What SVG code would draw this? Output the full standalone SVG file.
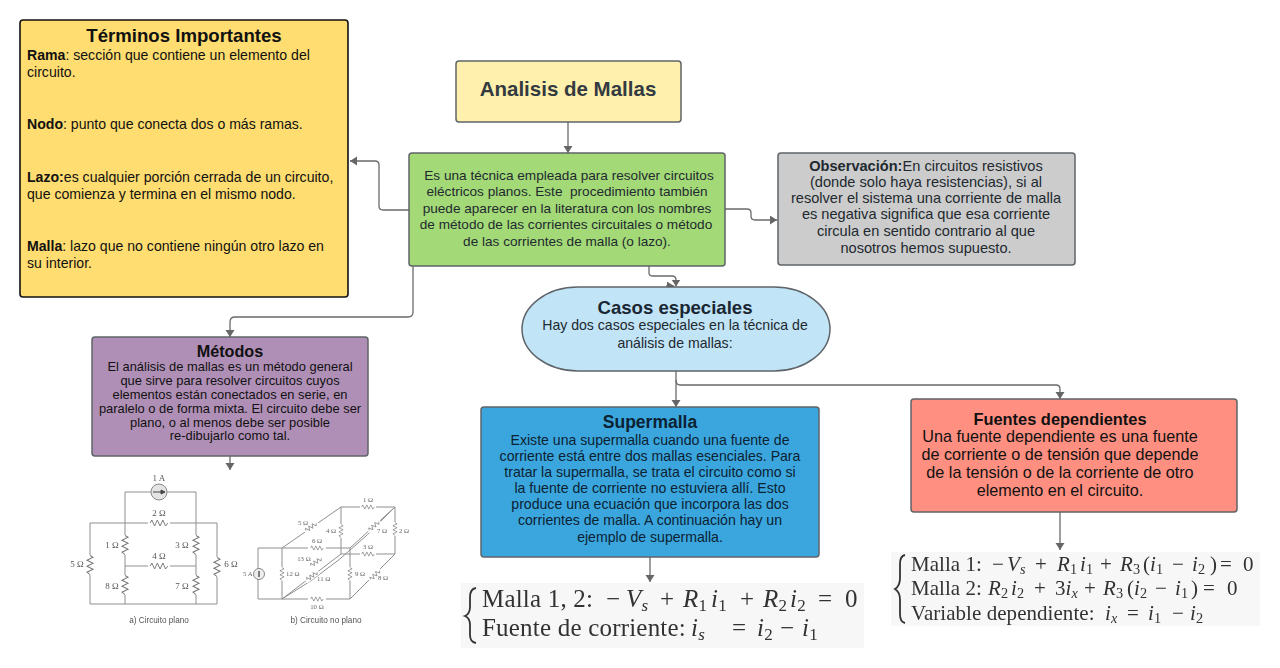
<svg xmlns="http://www.w3.org/2000/svg" width="1280" height="668" viewBox="0 0 1280 668">
<style>
text{font-family:"Liberation Sans",Arial,sans-serif}
.c{text-anchor:middle}
.box{stroke:#5f6468;stroke-width:1.5}
.conn{fill:none;stroke:#6a6a6a;stroke-width:1.3}
.t{font-size:13.6px;fill:#22292f}
.g{font-size:14.600px;fill:#22292f}
.k{fill:#111;font-size:14.100px}
.w{fill:none;stroke:#8f8f8f;stroke-width:1}
.r{fill:none;stroke:#777;stroke-width:.9}
.o text{font-family:"Liberation Serif",serif;font-size:9px;fill:#555}
.o2 text{font-family:"Liberation Serif",serif;font-size:6.800px;fill:#666}
.m{font-family:"Liberation Serif",serif;fill:#333}
.m1{font-size:25px;letter-spacing:.2px}
.m2{font-size:21px;letter-spacing:.05px}
.i{font-style:italic}
.s{font-size:.68em}
</style>
<defs>
<marker id="ab" markerWidth="7" markerHeight="10" refX="7" refY="4.500" orient="auto" markerUnits="userSpaceOnUse"><path d="M0 0L7 4.500L0 9Z" fill="#666"/></marker>
<path id="z" d="M-8 0L-6.500 -3L-4 3L-1.500 -3L1 3L3.500 -3L6 3L8 0"/>
<filter id="soft" x="-5%" y="-5%" width="110%" height="110%"><feGaussianBlur stdDeviation=".4"/></filter>
<filter id="soft2" x="-5%" y="-5%" width="110%" height="110%"><feGaussianBlur stdDeviation=".3"/></filter>
</defs>
<rect width="1280" height="668" fill="#fff"/>

<g id="connectors">
<path class="conn" marker-end="url(#ab)" d="M568 122V153"/>
<path class="conn" marker-end="url(#ab)" d="M409 210H383Q379 210 379 206V165Q379 161 375 161H350"/>
<path class="conn" marker-end="url(#ab)" d="M725 209H747Q751 209 751 213V216Q751 220 755 220H777"/>
<path class="conn" marker-end="url(#ab)" d="M649 266V273Q649 276 653 276H672Q676 276 676 280V286.500"/>
<path class="conn" marker-end="url(#ab)" d="M666 286H674"/>
<path class="conn" marker-end="url(#ab)" d="M413 266V312Q413 317 408 317H235Q230 317 230 322V337"/>
<path class="conn" marker-end="url(#ab)" d="M676 371V407"/>
<path class="conn" marker-end="url(#ab)" d="M676 380Q676 385 680 385H1056Q1060 385 1060 389V399"/>
<path class="conn" marker-end="url(#ab)" d="M230 456V470"/>
<path class="conn" marker-end="url(#ab)" d="M650 557V582"/>
<path class="conn" marker-end="url(#ab)" d="M1060 512V550"/>
</g>

<g id="terminos">
<rect x="20" y="20" width="328" height="277" rx="3" fill="#ffdd70" stroke="#111" stroke-width="1.6"/>
<text class="c" x="184" y="42" font-size="18.600" font-weight="700" fill="#111">Términos Importantes</text>
<text class="k" x="27" y="60"><tspan font-weight="700">Rama</tspan>: sección que contiene un elemento del</text>
<text class="k" x="27" y="77">circuito.</text>
<text class="k" x="27" y="129"><tspan font-weight="700">Nodo</tspan>: punto que conecta dos o más ramas.</text>
<text class="k" x="27" y="182"><tspan font-weight="700">Lazo:</tspan>es cualquier porción cerrada de un circuito,</text>
<text class="k" x="27" y="199">que comienza y termina en el mismo nodo.</text>
<text class="k" x="27" y="251"><tspan font-weight="700">Malla</tspan>: lazo que no contiene ningún otro lazo en</text>
<text class="k" x="27" y="268">su interior.</text>
</g>

<g id="analisis">
<rect class="box" x="456" y="61" width="225" height="61" rx="3" fill="#fff0ad"/>
<text class="c" x="568" y="96" font-size="20.500" font-weight="700" fill="#333a40">Analisis de Mallas</text>
</g>

<g id="tecnica">
<rect class="box" x="409" y="153" width="316" height="113" rx="3" fill="#a3d977"/>
<text class="c t" x="569" y="180">Es una técnica empleada para resolver circuitos</text>
<text class="c t" x="567" y="196">eléctricos planos. Este&#160; procedimiento también</text>
<text class="c t" x="567" y="213">puede aparecer en la literatura con los nombres</text>
<text class="c t" x="566" y="229">de método de las corrientes circuitales o método</text>
<text class="c t" x="567" y="246">de las corrientes de malla (o lazo).</text>
</g>

<g id="observacion">
<rect class="box" x="778" y="153" width="297" height="112" rx="3" fill="#cccccc"/>
<text class="c g" x="926" y="171"><tspan font-weight="700">Observación:</tspan>En circuitos resistivos</text>
<text class="c g" x="926" y="187">(donde solo haya resistencias), si al</text>
<text class="c g" x="926" y="203">resolver el sistema una corriente de malla</text>
<text class="c g" x="926" y="219">es negativa significa que esa corriente</text>
<text class="c g" x="926" y="236">circula en sentido contrario al que</text>
<text class="c g" x="926" y="253">nosotros hemos supuesto.</text>
</g>

<g id="casos">
<rect class="box" x="522" y="287" width="308" height="84" rx="56" ry="42" fill="#c1e4f7"/>
<text class="c" x="675" y="314" font-size="18.600" font-weight="700" fill="#1a2733">Casos especiales</text>
<text class="c" x="675" y="330" font-size="14.100" fill="#22292f">Hay dos casos especiales en la técnica de</text>
<text class="c" x="675" y="348" font-size="14.100" fill="#22292f">análisis de mallas:</text>
</g>

<g id="metodos">
<rect class="box" x="92" y="337" width="276" height="119" rx="3" fill="#b08fb6"/>
<text class="c" x="230" y="357" font-size="16.200" font-weight="700" fill="#111">Métodos</text>
<g font-size="12.900" fill="#111">
<text class="c" x="230" y="371">El análisis de mallas es un método general</text>
<text class="c" x="230" y="385">que sirve para resolver circuitos cuyos</text>
<text class="c" x="230" y="399">elementos están conectados en serie, en</text>
<text class="c" x="230" y="413">paralelo o de forma mixta. El circuito debe ser</text>
<text class="c" x="230" y="427">plano, o al menos debe ser posible</text>
<text class="c" x="230" y="440">re-dibujarlo como tal.</text>
</g>
</g>

<g id="supermalla">
<rect class="box" x="481" y="407" width="338" height="150" rx="3" fill="#3aa6dd"/>
<text class="c" x="650" y="428" font-size="17.500" font-weight="700" fill="#0c2233">Supermalla</text>
<g font-size="14.100" fill="#0c2233">
<text class="c" x="650" y="445">Existe una supermalla cuando una fuente de</text>
<text class="c" x="650" y="461">corriente está entre dos mallas esenciales. Para</text>
<text class="c" x="650" y="477">tratar la supermalla, se trata el circuito como si</text>
<text class="c" x="650" y="493">la fuente de corriente no estuviera allí. Esto</text>
<text class="c" x="650" y="509">produce una ecuación que incorpora las dos</text>
<text class="c" x="650" y="525">corrientes de malla. A continuación hay un</text>
<text class="c" x="650" y="542">ejemplo de supermalla.</text>
</g>
</g>

<g id="fuentes">
<rect class="box" x="911" y="399" width="326" height="113" rx="3" fill="#ff8f80"/>
<text class="c" x="1060" y="425" font-size="16.400" font-weight="700" fill="#111">Fuentes dependientes</text>
<g font-size="16.200" fill="#111">
<text class="c" x="1060" y="442">Una fuente dependiente es una fuente</text>
<text class="c" x="1060" y="460">de corriente o de tensión que depende</text>
<text class="c" x="1060" y="478">de la tensión o de la corriente de otro</text>
<text class="c" x="1060" y="496">elemento en el circuito.</text>
</g>
</g>

<g id="ecuacion-supermalla">
<rect x="461" y="583" width="403" height="65" fill="#f7f7f7"/>
<g filter="url(#soft2)">
<path d="M476 588Q470 589 470 597V607Q470 614 465 616Q470 618 470 625V635Q470 642 476 643" fill="none" stroke="#333" stroke-width="1.800"/>
<text class="m m1" x="482" y="607">Malla 1, 2: <tspan x="606">−</tspan><tspan class="i" x="626">V</tspan><tspan class="i s" dy="4">s</tspan><tspan x="660" dy="-4">+</tspan><tspan class="i" x="683">R</tspan><tspan class="s" dy="4">1</tspan><tspan class="i" x="711" dy="-4">i</tspan><tspan class="s" dy="4">1</tspan><tspan x="740" dy="-4">+</tspan><tspan class="i" x="763">R</tspan><tspan class="s" dy="4">2</tspan><tspan class="i" x="790" dy="-4">i</tspan><tspan class="s" dy="4">2</tspan><tspan x="818" dy="-4">=</tspan><tspan x="845">0</tspan></text>
<text class="m m1" x="482" y="636">Fuente de corriente: <tspan class="i" x="691">i</tspan><tspan class="i s" dy="4">s</tspan><tspan x="732" dy="-4">=</tspan><tspan class="i" x="757">i</tspan><tspan class="s" dy="4">2</tspan><tspan x="780" dy="-4">−</tspan><tspan class="i" x="802">i</tspan><tspan class="s" dy="4">1</tspan></text>
</g>
</g>

<g id="ecuacion-fuentes">
<rect x="891" y="552" width="369" height="74" fill="#f7f7f7"/>
<g filter="url(#soft2)">
<path d="M905 555Q900 556 900 564V578Q900 586 895 589Q900 592 900 600V614Q900 622 905 623" fill="none" stroke="#333" stroke-width="1.800"/>
<text class="m m2" x="911" y="571">Malla 1: <tspan x="992">−</tspan><tspan class="i" x="1007">V</tspan><tspan class="i s" dy="3">s</tspan><tspan x="1035" dy="-3">+</tspan><tspan class="i" x="1057">R</tspan><tspan class="s" dy="3">1</tspan><tspan class="i" x="1080" dy="-3">i</tspan><tspan class="s" dy="3">1</tspan><tspan x="1100" dy="-3">+</tspan><tspan class="i" x="1120">R</tspan><tspan class="s" dy="3">3</tspan><tspan x="1143" dy="-3">(</tspan><tspan class="i">i</tspan><tspan class="s" dy="3">1</tspan><tspan x="1172" dy="-3">−</tspan><tspan class="i" x="1192">i</tspan><tspan class="s" dy="3">2</tspan><tspan x="1210" dy="-3">)</tspan><tspan x="1220">=</tspan><tspan x="1243">0</tspan></text>
<text class="m m2" x="911" y="595">Malla 2: <tspan class="i" x="988">R</tspan><tspan class="s" dy="3">2</tspan><tspan class="i" x="1011" dy="-3">i</tspan><tspan class="s" dy="3">2</tspan><tspan x="1034" dy="-3">+</tspan><tspan x="1055">3</tspan><tspan class="i">i</tspan><tspan class="i s" dy="3">x</tspan><tspan x="1084" dy="-3">+</tspan><tspan class="i" x="1103">R</tspan><tspan class="s" dy="3">3</tspan><tspan x="1127" dy="-3">(</tspan><tspan class="i">i</tspan><tspan class="s" dy="3">2</tspan><tspan x="1155" dy="-3">−</tspan><tspan class="i" x="1175">i</tspan><tspan class="s" dy="3">1</tspan><tspan x="1191" dy="-3">)</tspan><tspan x="1203">=</tspan><tspan x="1227">0</tspan></text>
<text class="m m2" x="911" y="620">Variable dependiente: <tspan class="i" x="1105">i</tspan><tspan class="i s" dy="3">x</tspan><tspan x="1127" dy="-3">=</tspan><tspan class="i" x="1148">i</tspan><tspan class="s" dy="3">1</tspan><tspan x="1172" dy="-3">−</tspan><tspan class="i" x="1190">i</tspan><tspan class="s" dy="3">2</tspan></text>
</g>
</g>

<g id="circuito-plano" filter="url(#soft)">
<path class="w" d="M151 492H125V604M167 492H196V604M90 523H150M168 523H217V604H90V523M125 566H150M168 566H196"/>
<circle cx="159" cy="492" r="8" fill="#e4e4e4" stroke="#888"/>
<path d="M153 492H163M161 490L165 492L161 494Z" stroke="#444" fill="#444" stroke-width="1"/>
<g class="r">
<rect x="148" y="519" width="22" height="8" fill="#fff" stroke="none"/>
<rect x="148" y="562" width="22" height="8" fill="#fff" stroke="none"/>
<rect x="121" y="535" width="8" height="20" fill="#fff" stroke="none"/>
<rect x="192" y="535" width="8" height="20" fill="#fff" stroke="none"/>
<rect x="121" y="575" width="8" height="20" fill="#fff" stroke="none"/>
<rect x="192" y="575" width="8" height="20" fill="#fff" stroke="none"/>
<rect x="86" y="555" width="8" height="20" fill="#fff" stroke="none"/>
<rect x="213" y="557" width="8" height="20" fill="#fff" stroke="none"/>
<use href="#z" transform="translate(159 523) scale(1.100 1)"/>
<use href="#z" transform="translate(159 566) scale(1.100 1)"/>
<use href="#z" transform="translate(125 545) rotate(90) scale(1.200 1)"/>
<use href="#z" transform="translate(196 545) rotate(90) scale(1.200 1)"/>
<use href="#z" transform="translate(125 585) rotate(90) scale(1.200 1)"/>
<use href="#z" transform="translate(196 585) rotate(90) scale(1.200 1)"/>
<use href="#z" transform="translate(90 565) rotate(90) scale(1.200 1)"/>
<use href="#z" transform="translate(217 567) rotate(90) scale(1.200 1)"/>
</g>
<g class="o">
<text class="c" x="159" y="481">1 A</text><text class="c" x="159" y="516">2 Ω</text>
<text class="c" x="112" y="548">1 Ω</text><text class="c" x="182" y="548">3 Ω</text>
<text class="c" x="159" y="559">4 Ω</text><text class="c" x="77" y="567">5 Ω</text>
<text class="c" x="231" y="567">6 Ω</text><text class="c" x="112" y="589">8 Ω</text>
<text class="c" x="182" y="589">7 Ω</text>
</g>
<text class="c" x="159" y="623" font-size="8.200" fill="#555">a) Circuito plano</text>
</g>

<g id="circuito-no-plano" filter="url(#soft)">
<path class="w" d="M282 599H258V548H350V599H282M282 548L341 507H395V554H341V507M282 599L341 554M350 548L395 507M350 599L395 554M282 599V548M282 599Q340 566 395 507"/>
<g>
<rect x="308" y="544" width="18" height="8" fill="#fff"/>
<rect x="308" y="595" width="18" height="8" fill="#fff"/>
<rect x="360" y="503" width="16" height="8" fill="#fff"/>
<rect x="360" y="550" width="16" height="8" fill="#fff"/>
<rect x="337" y="524" width="8" height="14" fill="#fff"/>
<rect x="391" y="522" width="8" height="14" fill="#fff"/>
<rect x="278" y="567" width="8" height="14" fill="#fff"/>
<rect x="346" y="567" width="8" height="14" fill="#fff"/>
<rect x="-8" y="-3" width="16" height="6" fill="#fff" transform="translate(311 527) rotate(-35)"/>
<rect x="-8" y="-3" width="16" height="6" fill="#fff" transform="translate(374 526) rotate(-42)"/>
<rect x="-8" y="-3" width="16" height="6" fill="#fff" transform="translate(312 576) rotate(-37)"/>
<rect x="-8" y="-3" width="16" height="6" fill="#fff" transform="translate(375 575) rotate(-45)"/>
<rect x="-8" y="-3" width="16" height="6" fill="#fff" transform="translate(316 562) rotate(-35)"/>
</g>
<circle cx="259" cy="574" r="5.500" fill="#eee" stroke="#888"/>
<path d="M259 571V577" stroke="#555" stroke-width="1.500"/>
<g class="r">
<use href="#z" transform="translate(317 548) scale(.8 .7)"/>
<use href="#z" transform="translate(317 599) scale(.8 .7)"/>
<use href="#z" transform="translate(368 507) scale(.8 .7)"/>
<use href="#z" transform="translate(368 554) scale(.8 .7)"/>
<use href="#z" transform="translate(341 531) rotate(90) scale(.8 .7)"/>
<use href="#z" transform="translate(395 529) rotate(90) scale(.8 .7)"/>
<use href="#z" transform="translate(282 574) rotate(90) scale(.8 .7)"/>
<use href="#z" transform="translate(350 574) rotate(90) scale(.8 .7)"/>
<use href="#z" transform="translate(311 527) rotate(-35) scale(.8 .7)"/>
<use href="#z" transform="translate(374 526) rotate(-42) scale(.8 .7)"/>
<use href="#z" transform="translate(312 576) rotate(-37) scale(.8 .7)"/>
<use href="#z" transform="translate(375 575) rotate(-45) scale(.8 .7)"/>
<use href="#z" transform="translate(316 562) rotate(-35) scale(.8 .7)"/>
</g>
<g class="o2">
<text class="c" x="368" y="502">1 Ω</text><text class="c" x="303" y="525">5 Ω</text>
<text class="c" x="331" y="533">4 Ω</text><text x="377" y="533">7 Ω</text>
<text x="399" y="533">2 Ω</text><text class="c" x="317" y="543">6 Ω</text>
<text class="c" x="368" y="549">3 Ω</text><text class="c" x="304" y="561">13 Ω</text>
<text x="286" y="576">12 Ω</text><text x="317" y="581">11 Ω</text>
<text x="355" y="576">9 Ω</text><text x="378" y="580">8 Ω</text>
<text x="243" y="576">5 A</text><text class="c" x="317" y="609">10 Ω</text>
</g>
<text class="c" x="326" y="623" font-size="8.200" fill="#555">b) Circuito no plano</text>
</g>
</svg>
